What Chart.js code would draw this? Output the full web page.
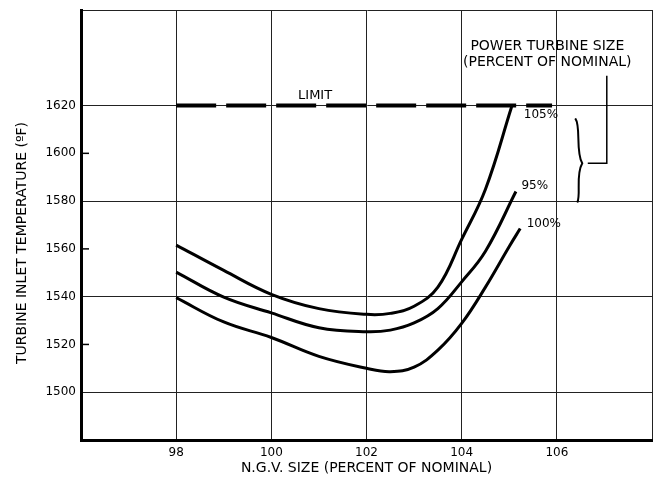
<!DOCTYPE html>
<html>
<head>
<meta charset="utf-8">
<script src="https://cdn.jsdelivr.net/npm/chart.js@4.4.0/dist/chart.umd.min.js"></script>
<style>
  html, body { margin: 0; background: #fff; }
</style>
</head>
<body>
<canvas id="turbineChart" width="656" height="487"></canvas>
<script>
// curves (N.G.V. size in %, inlet temperature in F)
var size105X = [98, 99, 100, 101, 102, 102.5, 103, 103.5, 104, 104.5, 105.05];
var size105Y = [1561.6, 1551, 1541, 1535, 1532.6, 1533, 1536, 1544, 1564, 1585, 1619.5];
var size95X = [98, 99, 100, 101, 102, 102.5, 103, 103.5, 104, 104.5, 105.14];
var size95Y = [1550.3, 1539.8, 1533.2, 1527, 1525.3, 1526, 1529, 1535, 1546.2, 1559, 1584];
var size100X = [98, 99, 100, 101, 102, 102.5, 103, 103.5, 104, 104.5, 105, 105.23];
var size100Y = [1539.6, 1529.4, 1522.9, 1515, 1510, 1508.6, 1510.5, 1517.6, 1528.8, 1544, 1561, 1568.5];
var limitX = [98, 105.9];
var limitY = [1620, 1620];

// axis ticks
var xTickLabels = [98, 100, 102, 104, 106];
var yTickLabels = [1500, 1520, 1540, 1560, 1580, 1600, 1620];
var yGridLines = [1500, 1540, 1580, 1620, 1660];
var yShortTicks = [1520, 1560, 1600];

// curve labels
var curveLabels = ["105%", "95%", "100%"];
var curveLabelX = [105.6, 105.55, 105.66];
var curveLabelY = [1616, 1586.5, 1570.5];

function toPoints(xs, ys) {
  return xs.map(function (x, i) { return { x: x, y: ys[i] }; });
}

Chart.defaults.font.family = "'DejaVu Sans', sans-serif";
Chart.defaults.color = "#000";

var extras = {
  id: "extras",
  afterDatasetsDraw: function (chart) {
    var c = chart.ctx, xs = chart.scales.x, ys = chart.scales.y;
    function px(v) { return xs.getPixelForValue(v); }
    function py(v) { return ys.getPixelForValue(v); }
    c.save();
    // short inward ticks on the y axis
    c.strokeStyle = "#000";
    c.lineWidth = 1.5;
    yShortTicks.forEach(function (v) {
      c.beginPath();
      c.moveTo(px(96), py(v));
      c.lineTo(px(96) + 8, py(v));
      c.stroke();
    });
    c.fillStyle = "#000";
    c.textBaseline = "middle";
    c.textAlign = "center";
    c.font = "13px 'DejaVu Sans', sans-serif";
    c.fillText("LIMIT", px(100.92), py(1624.3));
    c.font = "12px 'DejaVu Sans', sans-serif";
    c.textAlign = "left";
    curveLabels.forEach(function (t, i) {
      c.fillText(t, px(curveLabelX[i]) - 14, py(curveLabelY[i]));
    });
    c.textAlign = "center";
    c.font = "14px 'DejaVu Sans', sans-serif";
    c.fillText("POWER TURBINE SIZE", px(105.8), py(1644.8));
    c.fillText("(PERCENT OF NOMINAL)", px(105.8), py(1638.2));
    // y axis title
    c.save();
    c.translate(22, 243);
    c.rotate(-Math.PI / 2);
    c.fillText("TURBINE INLET TEMPERATURE (ºF)", 0, 0);
    c.restore();
    // leader line and brace
    c.lineWidth = 1.5;
    c.beginPath();
    c.moveTo(px(107.05), py(1632.5));
    c.lineTo(px(107.05), py(1595.8));
    c.lineTo(px(106.65), py(1595.8));
    c.stroke();
    var bx = px(106.45), top = py(1614.6), mid = py(1595.8), bot = py(1579.4);
    c.lineWidth = 2;
    c.beginPath();
    c.moveTo(bx - 3, top);
    c.bezierCurveTo(bx + 3, top + 8, bx - 3, mid - 12, bx + 4, mid);
    c.bezierCurveTo(bx - 3, mid + 12, bx + 3, bot - 8, bx - 1, bot);
    c.stroke();
    c.restore();
  }
};

var ctx = document.getElementById("turbineChart");
var turbineChart = new Chart(ctx, {
  type: "line",
  data: {
    datasets: [
      { label: "105%", data: toPoints(size105X, size105Y), borderColor: "#000", borderWidth: 3, pointRadius: 0, tension: 0.4 },
      { label: "95%", data: toPoints(size95X, size95Y), borderColor: "#000", borderWidth: 3, pointRadius: 0, tension: 0.4 },
      { label: "100%", data: toPoints(size100X, size100Y), borderColor: "#000", borderWidth: 3, pointRadius: 0, tension: 0.4 },
      { label: "LIMIT", data: toPoints(limitX, limitY), borderColor: "#000", borderWidth: 4, borderDash: [40, 10], pointRadius: 0 }
    ]
  },
  options: {
    responsive: false,
    animation: false,
    devicePixelRatio: 1,
    layout: { padding: { top: 10, right: 4, left: 0, bottom: 0 } },
    plugins: { legend: { display: false }, tooltip: { enabled: false } },
    scales: {
      x: {
        type: "linear",
        min: 96,
        max: 108,
        afterFit: function (s) { s.height = 47; s.paddingLeft = 0; s.paddingRight = 0; },
        ticks: {
          stepSize: 2,
          padding: 6,
          font: { size: 12 },
          callback: function (v) { return xTickLabels.indexOf(v) >= 0 ? String(v) : ""; }
        },
        grid: { color: "#222", lineWidth: 1, drawTicks: false },
        border: { color: "#000", width: 3 },
        title: { display: true, text: "N.G.V. SIZE (PERCENT OF NOMINAL)", font: { size: 14 }, padding: { top: 0, bottom: 10 } }
      },
      y: {
        min: 1480,
        max: 1660,
        afterFit: function (s) { s.width = 81; s.paddingTop = 0; s.paddingBottom = 0; },
        ticks: {
          stepSize: 20,
          padding: 5,
          font: { size: 12 },
          callback: function (v) { return yTickLabels.indexOf(v) >= 0 ? String(v) : ""; }
        },
        grid: {
          drawTicks: false,
          lineWidth: 1,
          color: function (c) { return yGridLines.indexOf(c.tick && c.tick.value) >= 0 ? "#222" : "rgba(0,0,0,0)"; }
        },
        border: { color: "#000", width: 3 }
      }
    }
  },
  plugins: [extras]
});
</script>
</body>
</html>
